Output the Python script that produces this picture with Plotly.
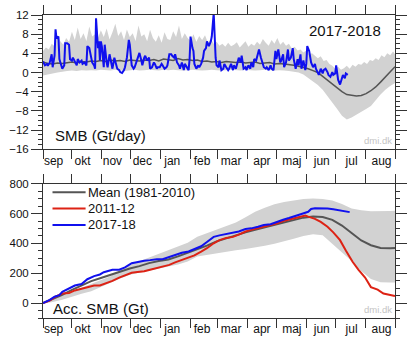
import plotly.graph_objects as go

# ---------------- data ----------------
months = ["sep", "okt", "nov", "dec", "jan", "feb", "mar", "apr", "maj", "jun", "jul", "aug"]
month_start_days = [0, 30, 61, 91, 122, 153, 181, 212, 242, 273, 303, 334, 365]
month_label_days = [11, 41, 72, 103, 134, 165, 195, 227, 258, 289, 320, 351]

# Top panel: daily SMB (Gt/day)
smb_1718_days = [0, 2, 4, 5, 7, 9, 10, 12, 13, 14, 16, 17, 18, 20, 22, 23, 25, 27, 28, 30,
                 31, 33, 35, 36, 38, 40, 41, 43, 45, 46, 48, 49, 51, 53, 54, 55, 57, 58, 59, 60,
                 61, 63, 64, 66, 67, 69, 71, 72, 74, 76, 77, 79, 80, 82, 84, 85, 87, 89, 90, 92,
                 94, 95, 97, 98, 100, 102, 103, 105, 106, 108, 110, 111, 113, 115, 116, 118, 119, 121, 123, 124,
                 126, 128, 129, 131, 133, 134, 136, 137, 139, 141, 142, 144, 146, 147, 149, 151, 152, 153, 155, 156,
                 157, 159, 161, 162, 164, 166, 167, 169, 170, 172, 174, 175, 177, 178, 179, 180, 182, 183, 185, 187,
                 188, 190, 192, 193, 195, 197, 198, 200, 201, 203, 205, 206, 208, 210, 211, 213, 215, 216, 218, 219,
                 221, 223, 224, 226, 228, 229, 231, 232, 234, 236, 237, 239, 241, 242, 244, 246, 247, 249, 250, 252,
                 254, 255, 257, 259, 260, 262, 264, 265, 267, 268, 270, 272, 273, 274, 276, 277, 278, 280, 282, 283,
                 285, 286, 288, 290, 291, 293, 295, 296, 298, 300, 301, 303, 304, 306, 308, 309, 311, 313, 314, 316]
smb_1718 = [2.3, 1.5, 1.8, 1.4, 2.1, 3.8, 1.1, 3.5, 9.0, 7.1, 7.5, 2.8, 2.1, 0.8, 1.5, 6.1, 6.1, 5.8, 2.8, 2.5,
            3.1, 2.1, 1.5, 2.8, 2.1, 2.5, 1.8, 2.1, 1.5, 5.5, 5.1, 4.1, 2.1, 1.5, 0.8, 11.3, 5.1, 6.5, 2.5, 6.5,
            5.5, 1.1, 5.8, 2.1, 1.1, 3.8, 1.5, 0.8, 3.1, 1.5, 0.8, 0.5, 0.1, -0.1, 0.5, 1.1, 3.1, 6.8, 5.8, 1.5,
            0.8, 1.1, 2.5, 2.8, 4.1, 2.5, 1.5, 3.1, 3.5, 2.5, 3.1, 0.8, 1.1, 2.1, 1.8, 0.8, 1.1, 1.1, 1.8, 1.5,
            0.8, 1.1, 1.5, 3.8, 3.8, 3.5, 3.1, 3.8, 2.1, 1.5, 0.8, 2.1, 0.5, 1.8, 1.1, 0.5, 2.8, 7.5, 5.1, 4.5,
            1.8, 0.8, 1.5, 1.1, 1.8, 3.1, 4.5, 5.1, 6.5, 5.5, 6.5, 7.5, 12.4, 6.5, 3.1, 1.5, 1.1, 2.5, 0.5, 0.8,
            1.8, 1.1, 0.5, 0.8, 1.8, 0.5, 1.5, 0.8, 1.8, 3.1, 2.1, 3.5, 0.8, 1.1, 0.5, 1.5, 0.8, 2.1, 1.1, 2.8,
            2.5, 3.8, 4.8, 3.1, 1.5, 1.1, 0.8, 1.1, 0.5, 1.5, 0.8, 0.5, 4.5, 2.8, 4.8, 2.1, 2.5, 3.8, 1.1, 2.1,
            4.8, 2.5, 3.1, 5.1, 2.8, 0.8, 2.8, 1.5, 3.8, 0.8, 2.5, 0.5, 1.8, 5.5, 4.5, 2.8, 2.1, 1.1, 1.8, 0.8,
            -0.2, -0.5, 0.8, -0.2, 0.5, 0.8, 0.1, -0.5, -0.9, 0.1, -0.5, -0.2, 1.5, -1.5, -2.5, -1.9, -0.5, -1.2, -0.2, -0.5]

mean_days5 = list(range(0, 366, 5))
smb_mean = [2.2, 1.9, 1.8, 2.0, 1.9, 2.1, 2.2, 2.0, 2.3, 2.2,
            2.4, 2.3, 2.5, 2.3, 2.6, 2.4, 2.5, 2.3, 2.6, 2.5,
            2.4, 2.6, 2.5, 2.7, 2.4, 2.8, 2.6, 2.5, 2.9, 2.6,
            2.7, 2.5, 2.6, 2.3, 2.4, 2.2, 2.3, 2.1, 2.3, 2.2,
            2.1, 2.2, 2.0, 2.1, 2.2, 1.9, 2.0, 2.1, 1.8, 1.9,
            1.8, 1.7, 1.5, 1.3, 1.1, 0.8, 0.4, 0.0, -0.8, -1.6,
            -2.5, -3.3, -4.0, -4.6, -4.8, -4.9, -4.8, -4.4, -3.8, -3.0,
            -2.0, -1.0, 0.2, 1.2]
smb_low = [-0.6, -0.4, -0.2, 0.0, 0.2, 0.3, 0.4, 0.3, 0.5, 0.4,
           0.5, 0.4, 0.6, 0.5, 0.4, 0.6, 0.5, 0.3, 0.5, 0.6,
           0.4, 0.5, 0.6, 0.5, 0.4, 0.6, 0.5, 0.6, 0.5, 0.4,
           0.5, 0.6, 0.5, 0.4, 0.5, 0.6, 0.5, 0.4, 0.5, 0.6,
           0.5, 0.4, 0.6, 0.5, 0.4, 0.5, 0.6, 0.5, 0.4, 0.5,
           0.4, 0.3, 0.2, 0.0, -0.4, -1.0, -1.8, -2.6, -3.6, -5.0,
           -6.2, -7.6, -9.0, -9.8, -9.4, -8.8, -8.2, -7.6, -7.0, -5.8,
           -4.6, -3.6, -2.8, -2.2]

up_days3 = list(range(0, 364, 3)) + [365]
smb_high = [4.5, 5.2, 4.8, 6.0, 5.5, 7.8, 6.5, 5.8, 7.2, 6.4,
            8.5, 6.8, 9.4, 7.0, 8.2, 6.6, 9.6, 7.5, 8.0, 7.2,
            8.8, 7.4, 9.2, 6.9, 8.4, 10.2, 7.6, 8.6, 6.8, 9.0,
            7.4, 8.2, 6.6, 9.8, 7.5, 8.0, 6.5, 8.9, 7.2, 6.4,
            7.8, 6.2, 8.4, 7.0, 6.8, 8.6, 7.4, 9.8, 7.0, 8.2,
            7.2, 6.6, 8.0, 6.4, 7.6, 6.8, 7.8, 6.2, 7.0, 6.0,
            6.4, 5.6, 6.0, 5.4, 6.2, 5.5, 5.8, 6.3, 5.2, 5.9,
            6.5, 5.4, 6.0, 5.6, 6.4, 5.8, 7.0, 6.2, 5.6, 6.8,
            6.0, 7.2, 5.8, 6.4, 5.6, 6.0, 5.0, 5.4, 4.6, 4.8,
            4.2, 4.6, 3.8, 4.0, 3.4, 3.0, 3.4, 2.4, 2.6, 1.8,
            1.4, 0.8, 1.2, 0.6, 0.9, 1.4, 0.8, 1.6, 1.2, 1.8,
            1.6, 2.2, 1.8, 2.6, 2.4, 3.0, 2.6, 3.6, 3.2, 4.0,
            3.6, 4.4, 3.8]

# Bottom panel: accumulated SMB (Gt)
acc_days10 = list(range(0, 361, 10)) + [365]
acc_mean = [0, 25, 55, 88, 118, 147, 168, 190, 214, 232,
            248, 268, 282, 292, 313, 337, 358, 385, 414, 435,
            454, 474, 492, 508, 523, 540, 558, 573, 580, 577,
            558, 520, 470, 420, 388, 370, 367, 369]
acc_high = [0, 25, 50, 75, 100, 130, 150, 180, 220, 255,
            280, 305, 325, 350, 378, 405, 445, 470, 495, 515,
            540, 575, 612, 640, 662, 678, 690, 698, 701, 698,
            688, 665, 635, 622, 616, 614, 617, 619]
acc_low = [0, 8, 22, 42, 62, 80, 105, 135, 165, 190,
           205, 220, 232, 245, 258, 278, 312, 325, 335, 345,
           355, 363, 373, 385, 397, 412, 432, 450, 462, 454,
           402, 340, 282, 215, 162, 140, 138, 138]

acc_1112_days = [0, 7, 13, 20, 27, 33, 40, 46, 53, 59, 66, 72, 79, 85, 92, 98, 105, 111, 118, 124,
                 131, 137, 144, 151, 157, 164, 170, 177, 183, 190, 197, 203, 210, 216, 223, 229, 236, 242, 249, 255,
                 262, 268, 272, 275, 282, 288, 295, 301, 308, 314, 321, 327, 334, 340, 347, 353, 360, 365]
acc_1112 = [0, 17, 43, 64, 68, 85, 96, 107, 118, 118, 132, 149, 171, 186, 203, 209, 213, 224, 235, 245,
            256, 273, 288, 303, 320, 345, 368, 401, 422, 437, 444, 459, 480, 491, 501, 512, 523, 533, 550, 561,
            572, 582, 587, 580, 565, 544, 512, 474, 422, 352, 277, 224, 171, 107, 90, 64, 53, 47]

acc_1718_days = [0, 7, 12, 17, 20, 27, 33, 40, 46, 53, 59, 63, 66, 72, 79, 85, 92, 98, 105, 111,
                 118, 124, 131, 137, 144, 151, 157, 164, 170, 177, 183, 190, 197, 203, 210, 216, 223, 229, 236, 242,
                 249, 255, 262, 268, 275, 278, 282, 288, 295, 301, 308, 314, 318]
acc_1718 = [0, 21, 43, 53, 75, 96, 118, 128, 160, 181, 192, 207, 213, 224, 224, 239, 267, 277, 284, 288,
            294, 294, 309, 324, 337, 346, 363, 381, 410, 444, 454, 463, 469, 480, 497, 501, 512, 523, 529, 544,
            559, 570, 582, 597, 612, 631, 636, 636, 634, 629, 623, 614, 610]

legend_names = ["Mean (1981-2010)", "2011-12", "2017-18"]

# ---------------- styles ----------------
FONT = "Liberation Sans, Arial, Helvetica, sans-serif"
AX = "#333333"
BAND = "#d2d2d2"
GREY = "#555555"
RED = "#dd2214"
BLUE = "#1010ee"

fig = go.Figure()

# top band
fig.add_trace(go.Scatter(x=up_days3 + mean_days5[::-1], y=smb_high + smb_low[::-1],
                         fill="toself", fillcolor=BAND, line=dict(width=0), mode="lines",
                         hoverinfo="skip", showlegend=False, xaxis="x", yaxis="y"))
fig.add_trace(go.Scatter(x=mean_days5, y=smb_mean, mode="lines", line=dict(color=GREY, width=1.5),
                         name=legend_names[0], showlegend=False, xaxis="x", yaxis="y"))
fig.add_trace(go.Scatter(x=smb_1718_days, y=smb_1718, mode="lines", line=dict(color=BLUE, width=2),
                         name=legend_names[2], showlegend=False, xaxis="x", yaxis="y"))

# bottom band
fig.add_trace(go.Scatter(x=acc_days10 + acc_days10[::-1], y=acc_high + acc_low[::-1],
                         fill="toself", fillcolor=BAND, line=dict(width=0), mode="lines",
                         hoverinfo="skip", showlegend=False, xaxis="x2", yaxis="y2"))
fig.add_trace(go.Scatter(x=acc_days10, y=acc_mean, mode="lines", line=dict(color=GREY, width=2),
                         name=legend_names[0], showlegend=False, xaxis="x2", yaxis="y2"))
fig.add_trace(go.Scatter(x=acc_1112_days, y=acc_1112, mode="lines", line=dict(color=RED, width=2),
                         name=legend_names[1], showlegend=False, xaxis="x2", yaxis="y2"))
fig.add_trace(go.Scatter(x=acc_1718_days, y=acc_1718, mode="lines", line=dict(color=BLUE, width=2),
                         name=legend_names[2], showlegend=False, xaxis="x2", yaxis="y2"))


def xax(anchor):
    return dict(anchor=anchor, domain=[0, 1], range=[0, 365], tickmode="array",
                tickvals=month_label_days, ticktext=months, ticks="outside", ticklen=0,
                showline=True, linecolor=AX, linewidth=1, mirror="ticks", showgrid=False,
                zeroline=False, tickfont=dict(size=12, color="#111", family=FONT),
                minor=dict(tickmode="array", tickvals=month_start_days, ticks="outside",
                           ticklen=9, tickcolor=AX, tickwidth=1, showgrid=False))


def yax(anchor, dom, rng, vals, mdt):
    return dict(anchor=anchor, domain=dom, range=rng, tickmode="array", tickvals=vals,
                ticks="outside", ticklen=11, tickcolor=AX, tickwidth=1,
                showline=True, linecolor=AX, linewidth=1, mirror="ticks", showgrid=False,
                zeroline=False, tickfont=dict(size=11.5, color="#111", family=FONT),
                minor=dict(dtick=mdt, tick0=0, ticks="outside", ticklen=4, tickcolor=AX,
                           tickwidth=1, showgrid=False))


fig.update_layout(
    width=416, height=345,
    margin=dict(l=33, r=11, t=9, b=20),
    paper_bgcolor="white", plot_bgcolor="white",
    font=dict(family=FONT, color="#111"),
    showlegend=False,
    xaxis=xax("y"),
    yaxis=yax("x", [0.557, 1.0], [-16, 12], [-16, -12, -8, -4, 0, 4, 8, 12], 1),
    xaxis2=xax("y2"),
    yaxis2=yax("x2", [0.0, 0.443], [-100, 800], [0, 200, 400, 600, 800], 50),
)

ann = [
    dict(text="2017-2018", x=0.967, y=0.949, xanchor="right", yanchor="middle", font=dict(size=15)),
    dict(text="SMB (Gt/day)", x=0.027, y=0.601, xanchor="left", yanchor="middle", font=dict(size=15)),
    dict(text="dmi.dk", x=0.952, y=0.585, xanchor="center", yanchor="middle", font=dict(size=9.5, color="#c4c4c4")),
    dict(text="Acc. SMB (Gt)", x=0.023, y=0.032, xanchor="left", yanchor="middle", font=dict(size=15)),
    dict(text="dmi.dk", x=0.952, y=0.028, xanchor="center", yanchor="middle", font=dict(size=9.5, color="#c4c4c4")),
]
leg_y = [0.415, 0.361, 0.307]
leg_col = [GREY, RED, BLUE]
for name, yy, col in zip(legend_names, leg_y, leg_col):
    ann.append(dict(text=name, x=0.124, y=yy, xanchor="left", yanchor="middle",
                    font=dict(size=13), borderpad=0))
    fig.add_shape(type="line", xref="paper", yref="paper", x0=0.027, x1=0.121, y0=yy, y1=yy,
                  line=dict(color=col, width=2))
for a in ann:
    a.update(xref="paper", yref="paper", showarrow=False)
fig.update_layout(annotations=ann)

fig.write_html("out.html")
